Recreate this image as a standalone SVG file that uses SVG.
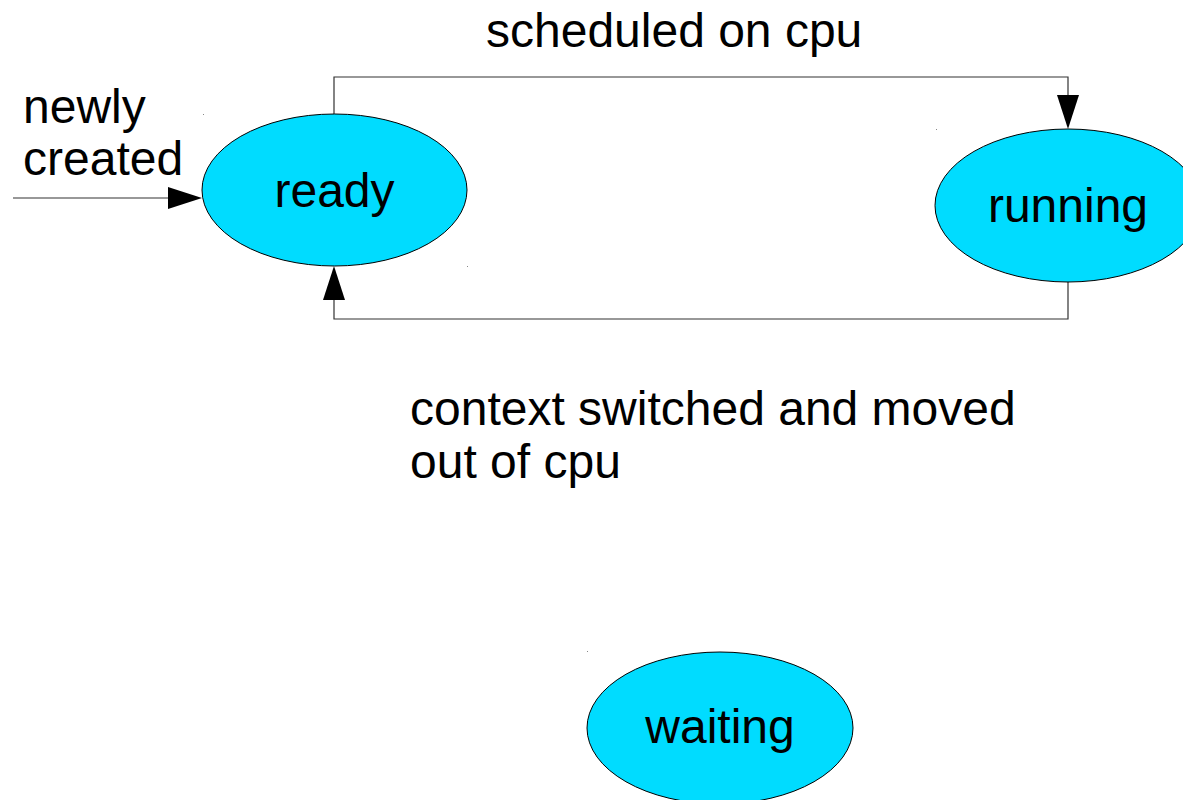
<svg xmlns="http://www.w3.org/2000/svg" width="1183" height="800" viewBox="0 0 1183 800">
  <style>
    .state { fill: #00dcff; stroke: #000; stroke-width: 1; }
    .label { font-family: "Liberation Sans", Arial, sans-serif; font-size: 48px; fill: #000; }
    .wire { fill: none; stroke: #333; stroke-width: 1.2; }
    .tip { fill: #000; }
    .speck { fill: #888; }
  </style>
  <rect width="1183" height="800" fill="#fff"/>

  <!-- transitions -->
  <g id="connectors">
    <!-- incoming: newly created -> ready -->
    <line class="wire" x1="13" y1="198" x2="170" y2="198"/>
    <polygon class="tip" points="168,187 202,198 168,209"/>
    <!-- ready -> running -->
    <polyline class="wire" points="334,114 334,77 1068,77 1068,97"/>
    <polygon class="tip" points="1057,95 1079,95 1068,129"/>
    <!-- running -> ready -->
    <polyline class="wire" points="1068,282 1068,319 334,319 334,298"/>
    <polygon class="tip" points="323,300 345,300 334,266"/>
  </g>

  <g id="ready">
    <ellipse class="state" cx="334.5" cy="190" rx="132.5" ry="76"/>
    <text class="label" x="334.5" y="207" text-anchor="middle">ready</text>
  </g>

  <g id="running">
    <ellipse class="state" cx="1068" cy="205.5" rx="133" ry="76.5"/>
    <text class="label" x="1068" y="222" text-anchor="middle">running</text>
  </g>

  <g id="waiting">
    <ellipse class="state" cx="720" cy="728" rx="133" ry="76"/>
    <text class="label" x="720" y="743" text-anchor="middle">waiting</text>
  </g>

  <!-- edge labels -->
  <g id="labels">
    <text class="label" x="23" y="123">newly</text>
    <text class="label" x="23" y="175">created</text>
    <text class="label" x="486" y="47">scheduled on cpu</text>
    <text class="label" x="410" y="425">context switched and moved</text>
    <text class="label" x="410" y="478">out of cpu</text>
  </g>

  <!-- text-box anchor specks -->
  <g id="specks">
    <rect class="speck" x="203" y="114" width="1" height="1"/>
    <rect class="speck" x="936" y="129" width="1" height="1"/>
    <rect class="speck" x="467" y="266" width="1" height="1"/>
    <rect class="speck" x="587" y="651" width="1" height="1"/>
  </g>
</svg>
